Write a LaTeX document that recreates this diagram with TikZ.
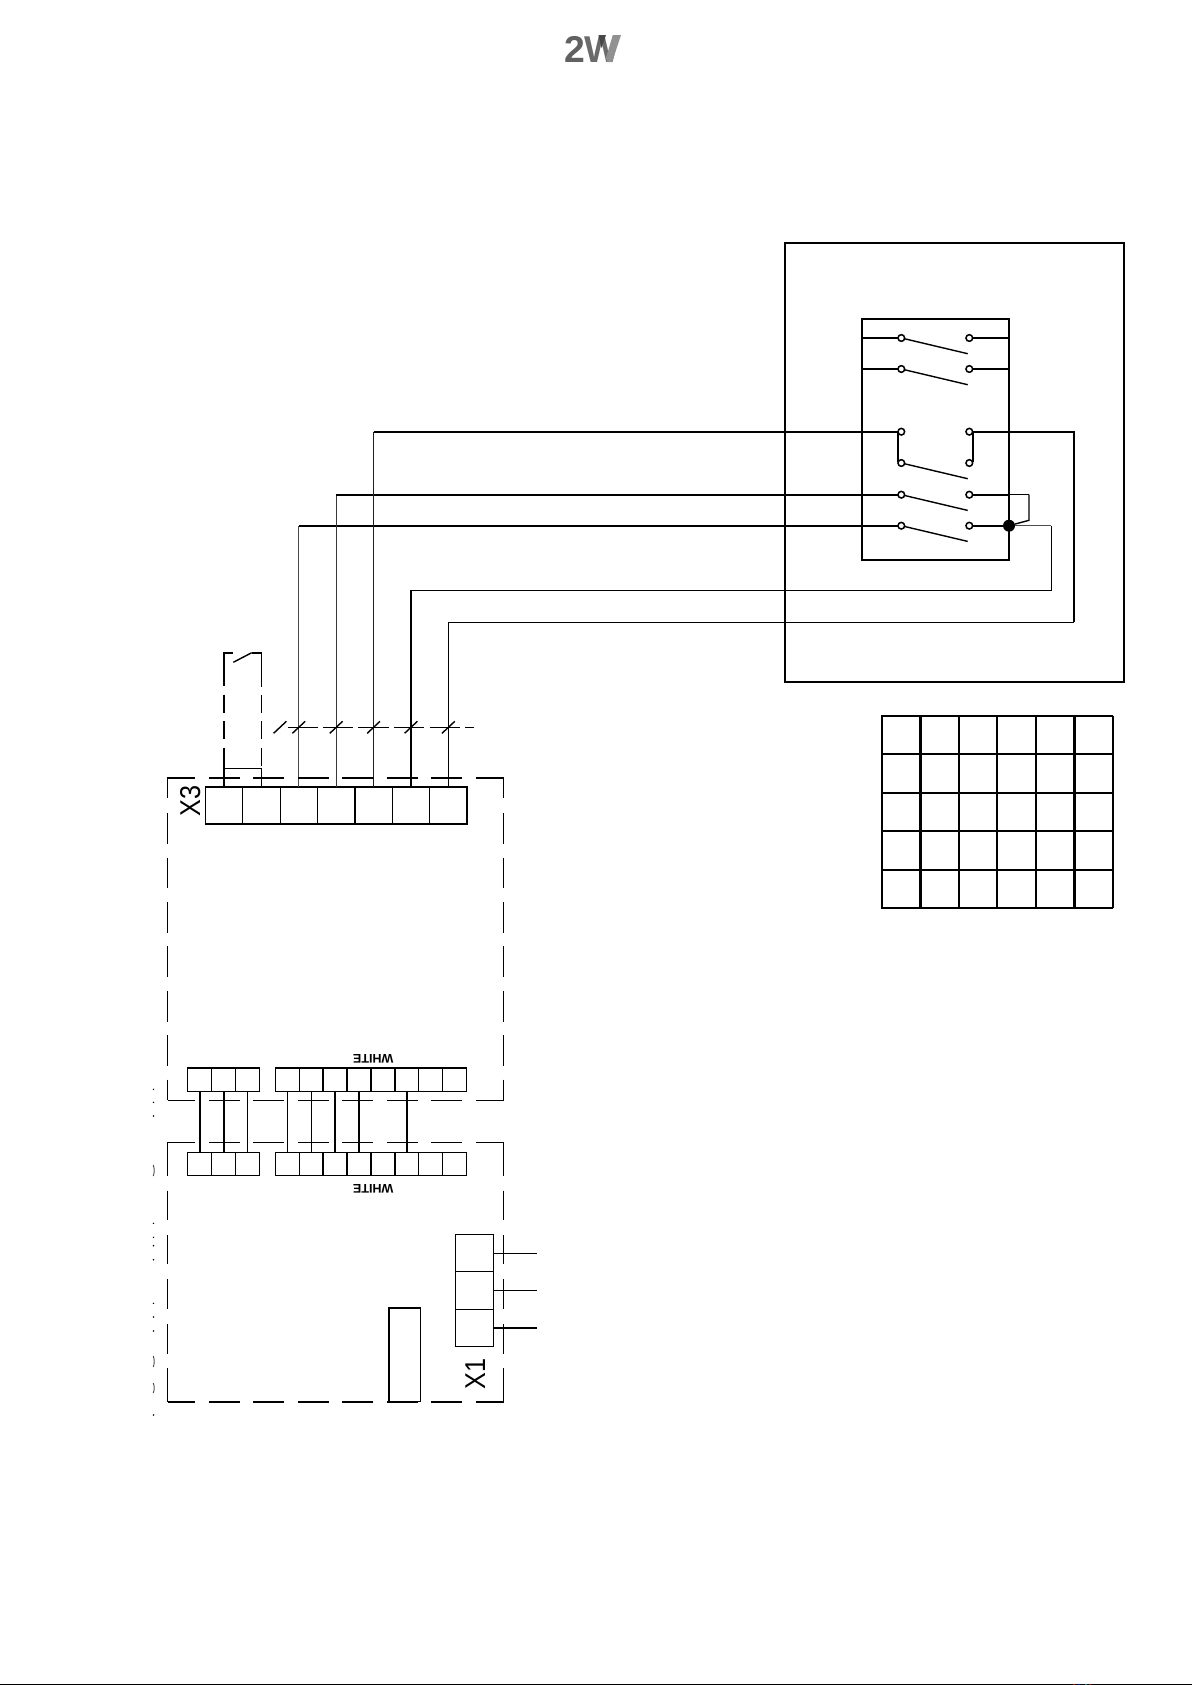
\documentclass[tikz,border=0pt]{standalone}
\usepackage{fontspec}
\setmainfont{Liberation Sans}
\newcommand{\pxu}{0.75pt}
\tikzset{
  x=0.75pt,y=-0.75pt,
  hair/.style={line width=0.75pt,black},
  mid/.style={line width=1.05pt,black},
  heavy/.style={line width=1.5pt,black},
  gridline/.style={line width=1.8pt,black},
  contact/.style={circle,draw=black,fill=white,line width=1.15pt,minimum size=5pt,inner sep=0pt,outer sep=0pt},
  cell/.style={rectangle,draw=black,line width=0.8pt,inner sep=0pt,outer sep=0pt},
  xcell/.style={cell,minimum width=37.4*\pxu,minimum height=37*\pxu},
  wcell/.style={cell,minimum width=23.8*\pxu,minimum height=23.5*\pxu},
  tag/.style={inner sep=0pt,font=\fontsize{21.5pt}{22pt}\selectfont},
  white/.style={inner sep=0pt,rotate=180,font=\fontsize{9.4pt}{10pt}\bfseries\selectfont},
  speck/.style={circle,fill=black,inner sep=0pt,minimum size=1.2pt},
}
\begin{document}
\begin{tikzpicture}
\useasboundingbox (0,0) rectangle (1192,1685);
\fill[white] (0,0) rectangle (1192,1685);
% logo
\node[anchor=south west,inner sep=0pt,text=black!62,font=\fontsize{28pt}{28pt}\bfseries\selectfont] (logo2) at (564,62.5) {2};
\node[anchor=south west,inner sep=0pt,text=black!58,font=\fontsize{28pt}{28pt}\bfseries\selectfont] (logoW) at (584.7,62.5) {W};
\fill[black!43] (621,35) -- (612.8,35) -- (606,58) -- (607.5,62) -- (612,62) -- cycle;
\fill[black!72] (598.5,35) -- (606,35) -- (601.5,48) -- cycle;
% outer box and switch box
\draw[heavy] (785,242.7) rectangle (1124,681.7);
\draw[heavy] (862,319) rectangle (1009,559.7);
% contacts
\node[contact] (l1) at (901.3,338) {};
\node[contact] (r1) at (969.3,338) {};
\node[contact] (l2) at (901.3,369) {};
\node[contact] (r2) at (969.3,369) {};
\node[contact] (l3) at (901.3,431.7) {};
\node[contact] (r3) at (969.3,431.7) {};
\node[contact] (l4) at (901.3,463) {};
\node[contact] (r4) at (969.3,463) {};
\node[contact] (l5) at (901.3,494.7) {};
\node[contact] (r5) at (969.3,494.7) {};
\node[contact] (l6) at (901.3,525.7) {};
\node[contact] (r6) at (969.3,525.7) {};
\node[circle,fill=black,minimum size=9pt,inner sep=0pt,outer sep=0pt] (dot) at (1009,525.7) {};
% blades
\foreach \n/\y in {1/353.7,2/384.7,4/478.7,5/510.4,6/541.4}
  \draw[mid] (l\n) -- (967.7,\y);
% box-side stubs
\coordinate (bl1) at (862,338); \coordinate (bl2) at (862,369);
\coordinate (br1) at (1009,338); \coordinate (br2) at (1009,369);
\draw[heavy] (bl1) -- (l1); \draw[heavy] (bl2) -- (l2);
\draw[heavy] (r1) -- (br1); \draw[heavy] (r2) -- (br2);
\draw[heavy] (r6) -- (dot);
% linked contacts
\draw[heavy] (898,433) -- (898,462);
\draw[heavy] (972.7,433) -- (972.7,462);
% terminal strip X3
\foreach \n/\x in {a/224,b/261.4,c/298.8,d/336.2,e/373.6,f/411,g/448.4}
  \node[xcell] (x3\n) at (\x,805.5) {};
\draw[heavy] (355,787) -- (355,824);
\draw[heavy] (467,787) -- (467,824);
% wires to switch
\coordinate (c6) at (298.8,525.7);
\coordinate (c5) at (336.2,494.7);
\coordinate (c3) at (373.6,431.7);
\coordinate (c7) at (411,590.3);
\coordinate (c7r) at (1051,590.3);
\coordinate (c7u) at (1051,525.7);
\coordinate (c8) at (448.4,622);
\coordinate (c8r) at (1073.7,622);
\coordinate (c8u) at (1073.7,431.7);
\draw[line width=0.95pt,black!72] (x3c.north) -- (c6);
\draw[heavy] (c6) -- (l6);
\draw[line width=0.95pt,black!78] (x3d.north) -- (c5);
\draw[heavy] (c5) -- (l5);
\draw[line width=1.1pt,black!88] (x3e.north) -- (c3);
\draw[heavy] (c3) -- (l3);
\draw[heavy] (x3f.north) -- (c7);
\draw[hair] (c7) -- (c7r) -- (c7u);
\draw[line width=1.1pt,black!70] (c7u) -- (dot);
\draw[hair] (x3g.north) -- (c8) -- (c8r);
\draw[heavy] (c8r) -- (c8u) -- (r3);
\coordinate (lp1) at (1029,494.7);
\coordinate (lp2) at (1029,520.3);
\draw[heavy] (r5) -- (1009,494.7);
\draw[hair] (1009,494.7) -- (lp1);
\draw[mid] (lp1) -- (lp2) -- (dot);
% dashed auxiliary switch
\foreach \a/\b in {652.7/686,694.5/712.7,721/739.3,747.7/787}
  \draw[heavy] (223.8,\a) -- (223.8,\b);
\foreach \a/\b in {652.7/686.5,695/712.7,721/739.3,747.7/765.7,768.3/787}
  \draw[mid] (261.4,\a) -- (261.4,\b);
\draw[heavy] (223.1,652.7) -- (233,652.7);
\draw[heavy] (251.7,652.7) -- (262,652.7);
\draw[mid] (233.3,662.3) -- (251.7,652.7);
\draw[hair] (223.8,768.3) -- (261.4,768.3);
% dashed cable line with ticks
\foreach \a/\b in {287.7/318,323/353.3,358.3/389,394/424.3,430/460,465/474.3}
  \draw[hair] (\a,727) -- (\b,727);
\foreach \x in {280,298.8,336.2,373.6,411,448.4}
  \draw[mid] (\x-6.4,733.3) -- (\x+6.4,721.3);
% dashed frames: horizontals
\foreach \a/\b in {167.7/195,209/239.7,253.3/284,298/328.7,342.3/373.3,387/417.7,431.3/462.3,476/503.8}{
  \draw[heavy] (\a,777.7) -- (\b,777.7);
  \draw[hair] (\a,1100.3) -- (\b,1100.3);
  \draw[hair] (\a,1142.3) -- (\b,1142.3);
  \draw[heavy] (\a,1401.7) -- (\b,1401.7);
}
% verticals upper frame
\foreach \a/\b in {777/798.2,813.3/844,857.7/888.4,902/932.8,946.4/977.2,990.8/1021.6,1035.2/1066,1079.6/1100.3}{
  \draw[mid] (167.7,\a) -- (167.7,\b);
  \draw[hair] (503.3,\a) -- (503.3,\b);
}
% verticals lower frame
\foreach \a/\b in {1142/1176,1190.5/1220,1235/1264.3,1279.3/1309.3,1324/1354,1368.3/1402}{
  \draw[mid] (167.7,\a) -- (167.7,\b);
  \draw[hair] (503.3,\a) -- (503.3,\b);
}
\node[tag,rotate=90] (lx3) at (190.3,801) {\scalebox{.88}[1]{X3}};
\node[tag,rotate=90] (lx1) at (475.3,1374) {\scalebox{.88}[1]{X1}};
% WHITE strips
\foreach \n/\x in {1/199.7,2/223.7,3/247.5,4/287.3,5/311.2,6/335,7/359,8/383,9/406.9,10/430.7,11/454.5}{
  \node[wcell] (ua\n) at (\x,1079.7) {};
  \node[wcell] (lo\n) at (\x,1164.2) {};
}
\foreach \x in {187.7,211.7,323,347,371,395}{
  \draw[mid] (\x,1068) -- (\x,1091.5);
  \draw[mid] (\x,1152.5) -- (\x,1176);
}
\draw[heavy] (187.7,1068) -- (259.3,1068);
\draw[heavy] (275.3,1068) -- (466.3,1068);
\node[white] (wh1) at (373.3,1059) {WHITE};
\node[white] (wh2) at (373.3,1188.3) {WHITE};
\foreach \n in {1,2,6,7,9}
  \draw[heavy] (ua\n.south) -- (lo\n.north);
\foreach \n in {3,4,5}
  \draw[hair] (ua\n.south) -- (lo\n.north);
% small block
\draw[mid] (389,1308) rectangle (420.7,1401.7);
% X1 terminal
\node[cell,minimum width=37.6*\pxu,minimum height=37.3*\pxu] (x1a) at (474.5,1253) {};
\node[cell,minimum width=37.6*\pxu,minimum height=37.6*\pxu] (x1b) at (474.5,1290.5) {};
\node[cell,minimum width=37.6*\pxu,minimum height=37*\pxu] (x1c) at (474.5,1327.8) {};
\draw[mid] (455.7,1234.3) -- (455.7,1346.3);
\draw[mid] (455.7,1271.7) -- (493.3,1271.7);
\coordinate (e1) at (536.7,1253);
\coordinate (e2) at (536.7,1290.5);
\coordinate (e3) at (536.7,1327.8);
\draw[hair] (x1a.east) -- (e1);
\draw[hair] (x1b.east) -- (e2);
\draw[heavy] (x1c.east) -- (e3);
% grid
\foreach \x in {881.7,920.3,959,997,1036,1074.3,1112.7}
  \draw[gridline] (\x,715.7) -- (\x,908);
\foreach \y in {715.7,753.7,793,831,870,908}
  \draw[gridline] (881,\y) -- (1113.4,\y);
% remnants at the left edge
\foreach \y in {1089.3,1102.3,1116,1223.3,1237.3,1245.7,1259.7,1303.3,1317,1331,1415}
  \node[speck] at (153.5,\y) {};
\foreach \a/\b in {1165/1176,1356/1367,1383/1393}
  \draw[line width=0.7pt,black!70] (153.2,\a) .. controls (154.6,\a+3) and (154.6,\b-3) .. (153.2,\b);
% bottom edge rule
\fill[black] (0,1683.8) rectangle (1192,1685);
\fill[red!70!black] (1073,1683.8) rectangle (1074.5,1685);
\fill[blue!70!black] (1078,1683.8) rectangle (1079.5,1685);
\fill[teal] (1085,1683.8) rectangle (1086.5,1685);
\fill[red!70!black] (1089,1683.8) rectangle (1090.5,1685);
\end{tikzpicture}
\end{document}
